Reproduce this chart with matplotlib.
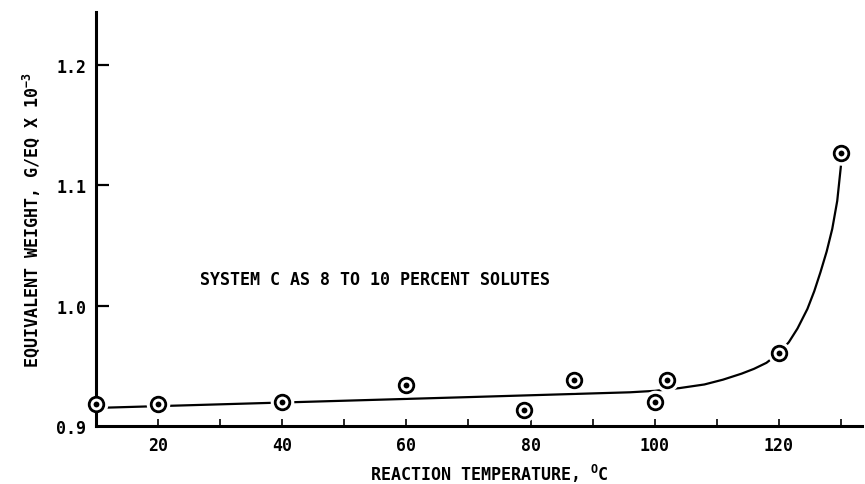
import matplotlib
matplotlib.use("Agg")
import matplotlib.pyplot as plt
from matplotlib.font_manager import FontProperties

# Measured equivalent weights (g/eq x 10^-3) vs reaction temperature (deg C)
temperature = [10, 20, 40, 60, 79, 87, 100, 102, 120, 130]
equiv_weight = [0.918, 0.918, 0.920, 0.934, 0.913, 0.938, 0.920, 0.938, 0.961, 1.127]

# Hand-drawn trend curve through the data
curve_temp = [10, 40, 70, 96, 100, 104, 108, 111, 114, 116, 118, 120,
              121.6, 123, 124.6, 125.7, 126.7, 127.7, 128.6, 129.4, 130]
curve_weight = [0.915, 0.9195, 0.924, 0.928, 0.9292, 0.9315, 0.9345, 0.9385,
                0.9435, 0.9475, 0.9525, 0.9605, 0.9696, 0.981, 0.9973, 1.012,
                1.0278, 1.045, 1.0638, 1.087, 1.1164]

x_major = [20, 40, 60, 80, 100, 120]
x_minor = [30, 50, 70, 90, 110, 130]
y_ticks = [0.9, 1.0, 1.1, 1.2]
y_ticklabels = ["0.9", "1.0", "1.1", "1.2"]

font = FontProperties(family="DejaVu Sans Mono", weight="bold", size=12)

fig = plt.figure(figsize=(8.65, 4.85), dpi=100)
ax = fig.add_axes([0.1109, 0.1196, 0.8857, 0.8536])

ax.set_xlim(10, 133.4)
ax.set_ylim(0.9, 1.244)

# trend line
ax.plot(curve_temp, curve_weight, color="black", lw=1.6, zorder=2,
        solid_capstyle="butt", solid_joinstyle="round")

# white halo around each marker breaks the line near the points
ax.plot(temperature, equiv_weight, ls="none", marker="o", ms=17, mfc="white",
        mec="white", mew=0, zorder=2.1, clip_on=False)
# ringed markers with a solid center dot
ax.plot(temperature, equiv_weight, ls="none", marker="o", ms=10.5, mfc="white",
        mec="black", mew=2.0, zorder=3, clip_on=False)
ax.plot(temperature, equiv_weight, ls="none", marker="o", ms=4.2, mfc="black",
        mec="black", mew=0, zorder=4, clip_on=False)

for side in ("top", "right"):
    ax.spines[side].set_visible(False)
for side in ("left", "bottom"):
    ax.spines[side].set_linewidth(2.2)
    ax.spines[side].set_zorder(2.5)

ax.set_xticks(x_major)
ax.set_xticklabels([str(v) for v in x_major], fontproperties=font)
ax.set_xticks(x_minor, minor=True)
ax.tick_params(axis="x", which="both", direction="in", length=5, width=1.2, pad=7)

ax.set_yticks(y_ticks)
ax.set_yticklabels(y_ticklabels, fontproperties=font)
ax.tick_params(axis="y", which="major", direction="in", length=9, width=1.6, pad=7)
ax.yaxis.get_major_ticks()[0].tick1line.set_visible(False)

ax.set_xlabel("REACTION TEMPERATURE, $^{\\mathregular{O}}$C", fontproperties=font)
ax.xaxis.label.set_verticalalignment("baseline")
ax.xaxis.set_label_coords(0.514, -0.1305)
ax.set_ylabel("EQUIVALENT WEIGHT, G/EQ X 10$^{\\mathregular{-3}}$", fontproperties=font, labelpad=10)

ax.text(0.136, 0.355, "SYSTEM C AS 8 TO 10 PERCENT SOLUTES", transform=ax.transAxes,
        fontproperties=font, ha="left", va="center")

fig.savefig("out.png", dpi=100)
